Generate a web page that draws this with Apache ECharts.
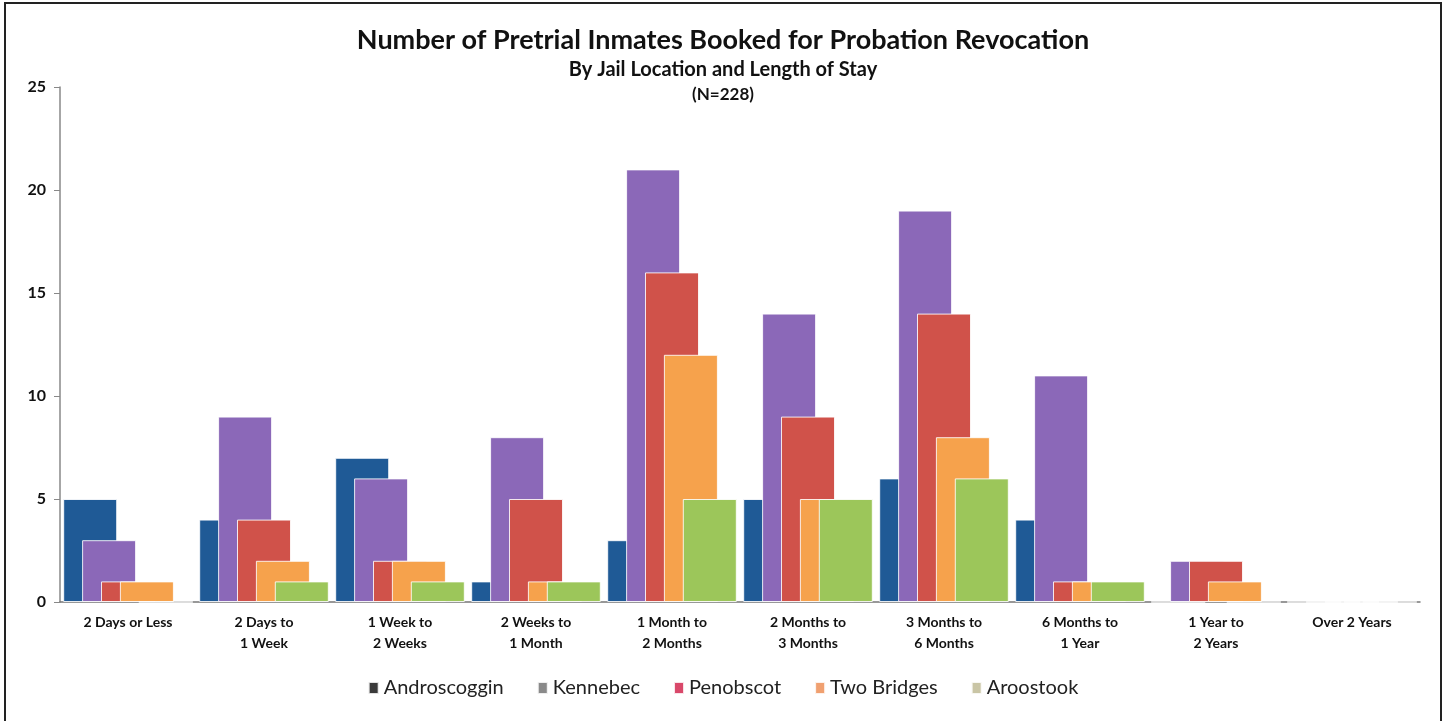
<!DOCTYPE html>
<html lang="en">
<head>
  <meta charset="UTF-8">
  <script src="https://cdn.jsdelivr.net/npm/echarts@6/dist/echarts.min.js"></script>
  <style>
    body{margin:0;background:#fff;overflow:hidden;}
    #main{position:absolute;left:4px;top:2px;width:1434px;height:740px;border:2px solid #222;}
  </style>
</head>
<body>
<div id="main"></div>

<script>
  var stays = ['2 Days or Less','2 Days to\n1 Week','1 Week to\n2 Weeks','2 Weeks to\n1 Month','1 Month to\n2 Months',
               '2 Months to\n3 Months','3 Months to\n6 Months','6 Months to\n1 Year','1 Year to\n2 Years','Over 2 Years'];
  var androscoggin = [5, 4, 7, 1, 3, 5, 6, 4, 0, 0];
  var kennebec     = [3, 9, 6, 8, 21, 14, 19, 11, 2, 0];
  var penobscot    = [1, 4, 2, 5, 16, 9, 14, 1, 2, 0];
  var twoBridges   = [1, 2, 2, 1, 12, 5, 8, 1, 1, 0];
  var aroostook    = [0, 1, 1, 1, 5, 5, 6, 1, 0, 0];

  var font = 'Lato, "Open Sans", sans-serif';
  var main = echarts.init(document.querySelector('#main'));

  function bar(name, data, color){
    return {
      name:name,
      type:'bar',
      data:data,
      barWidth:54,
      barGap:'-65%',
      itemStyle:{color:color,borderColor:'rgba(255,255,255,0.85)',borderWidth:1}
    };
  }

  main.setOption({
    animation:false,
    title:[
      {text:'Number of Pretrial Inmates Booked for Probation Revocation',left:'center',top:18,
        textStyle:{fontFamily:font,fontSize:27,fontWeight:'bold',color:'#111'}},
      {text:'By Jail Location and Length of Stay',left:'center',top:51,
        textStyle:{fontFamily:font,fontSize:20,fontWeight:'bold',color:'#111'}},
      {text:'(N=228)',left:'center',top:77,
        textStyle:{fontFamily:font,fontSize:17,fontWeight:'bold',color:'#111'}}
    ],
    legend:{
      top:669,left:'center',itemGap:33,itemWidth:10,itemHeight:12,icon:'rect',
      textStyle:{fontFamily:font,fontSize:20,color:'#222'},
      data:[
        {name:'Androscoggin',itemStyle:{color:'#3a3a3a'}},
        {name:'Kennebec',itemStyle:{color:'#8a8a8a'}},
        {name:'Penobscot',itemStyle:{color:'#d9486a'}},
        {name:'Two Bridges',itemStyle:{color:'#f0a070'}},
        {name:'Aroostook',itemStyle:{color:'#c9c5a5'}}
      ]
    },
    grid:{left:54,top:83,width:1360,height:515},
    xAxis:{
      type:'category',data:stays,
      axisLine:{lineStyle:{color:'#777',width:1.5}},
      axisTick:{length:4,lineStyle:{color:'#777'}},
      axisLabel:{fontFamily:font,fontSize:14,fontWeight:'bold',color:'#111',lineHeight:21,margin:10,interval:0}
    },
    yAxis:{
      type:'value',min:0,max:25,interval:5,
      splitLine:{show:false},
      axisLine:{show:true,lineStyle:{color:'#888',width:1.5}},
      axisTick:{show:true,length:6,lineStyle:{color:'#888'}},
      axisLabel:{fontFamily:font,fontSize:16,fontWeight:'bold',color:'#111',margin:14}
    },
    series:[
      bar('Androscoggin', androscoggin, '#1f5a96'),
      bar('Kennebec', kennebec, '#8b68b8'),
      bar('Penobscot', penobscot, '#d0524a'),
      bar('Two Bridges', twoBridges, '#f6a24c'),
      bar('Aroostook', aroostook, '#9cc65a')
    ]
  });
</script>
</body>
</html>
